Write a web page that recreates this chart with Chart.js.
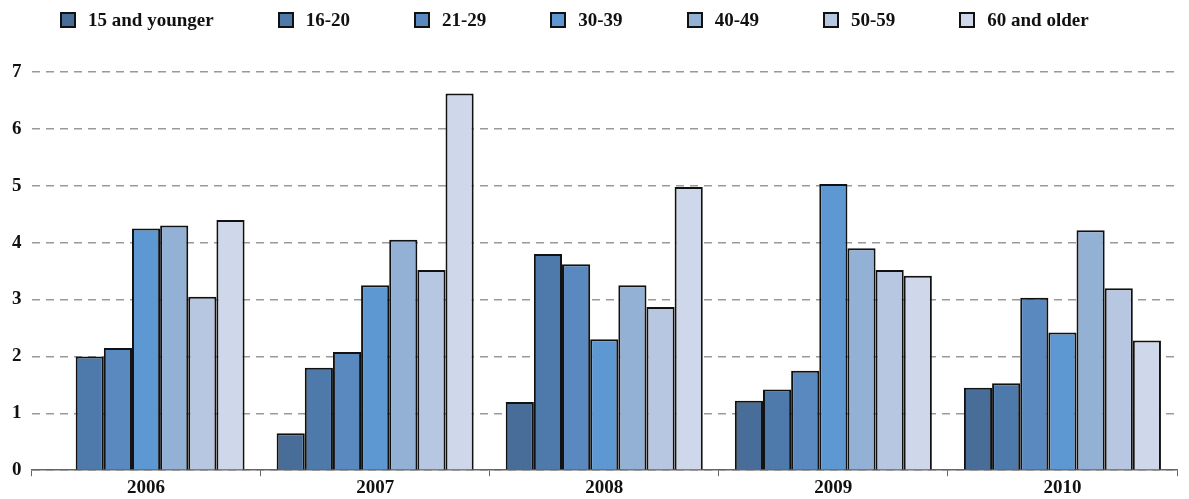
<!DOCTYPE html>
<html>
<head>
<meta charset="utf-8">
<script src="https://cdn.jsdelivr.net/npm/chart.js@4"></script>
<style>
  html, body { margin: 0; padding: 0; background: #fff; }
  #wrap { width: 1189px; height: 499px; position: relative; }
  #legend { position: absolute; top: 9px; left: 60px; display: flex; font: bold 19px 'Liberation Serif', 'DejaVu Serif', serif; color: #111; }
  .item { display: flex; align-items: center; margin-right: 64px; }
  .box { width: 16px; height: 16px; border: 2px solid #111; margin-right: 12px; box-sizing: border-box; }
</style>
</head>
<body>
<div id="wrap"><div id="legend"></div><canvas id="chart" width="1189" height="499"></canvas></div>
<script>
const years = ["2006", "2007", "2008", "2009", "2010"];
const ageGroups = ["15 and younger", "16-20", "21-29", "30-39", "40-49", "50-59", "60 and older"];

const age15 = [null, 0.65, 1.2, 1.22, 1.45];
const age16 = [2.0, 1.8, 3.8, 1.42, 1.53];
const age21 = [2.15, 2.08, 3.62, 1.75, 3.03];
const age30 = [4.25, 3.25, 2.3, 5.03, 2.42];
const age40 = [4.3, 4.05, 3.25, 3.9, 4.22];
const age50 = [3.05, 3.52, 2.87, 3.52, 3.2];
const age60 = [4.4, 6.62, 4.98, 3.42, 2.28];

const seriesValues = [age15, age16, age21, age30, age40, age50, age60];
const colors = ["#476d98", "#4e7aab", "#5989bf", "#5e98d2", "#93b0d5", "#b7c7e1", "#cfd8ea"];

const serif = "'Liberation Serif', 'DejaVu Serif', serif";

// HTML legend
const legendEl = document.getElementById('legend');
ageGroups.forEach((name, i) => {
    const item = document.createElement('div');
    item.className = 'item';
    item.innerHTML = `<span class="box" style="background:${colors[i]}"></span>${name}`;
    legendEl.appendChild(item);
});

new Chart(document.getElementById('chart'), {
    type: 'bar',
    data: {
        labels: years,
        datasets: ageGroups.map((name, i) => ({
            label: name,
            data: seriesValues[i],
            backgroundColor: colors[i],
            borderColor: '#111',
            borderWidth: 2,
            borderSkipped: 'bottom'
        }))
    },
    options: {
        responsive: false,
        animation: false,
        layout: { padding: { left: 2, right: 12, top: 72, bottom: 0 } },
        datasets: { bar: { categoryPercentage: 0.86, barPercentage: 1.0 } },
        plugins: {
            legend: { display: false },
            tooltip: { enabled: false }
        },
        scales: {
            y: {
                min: 0, max: 7,
                ticks: { stepSize: 1, color: '#111', padding: 10, font: { family: serif, size: 19, weight: 'bold' } },
                grid: { color: '#999', lineWidth: 1.5, drawTicks: false },
                border: { display: false, dash: [8, 6] }
            },
            x: {
                ticks: { color: '#111', padding: 0, font: { family: serif, size: 19, weight: 'bold' } },
                grid: { display: true, offset: true, drawOnChartArea: false, color: '#666', tickLength: 6 },
                border: { display: true, color: '#666', width: 1.5 }
            }
        }
    }
});
</script>
</body>
</html>
